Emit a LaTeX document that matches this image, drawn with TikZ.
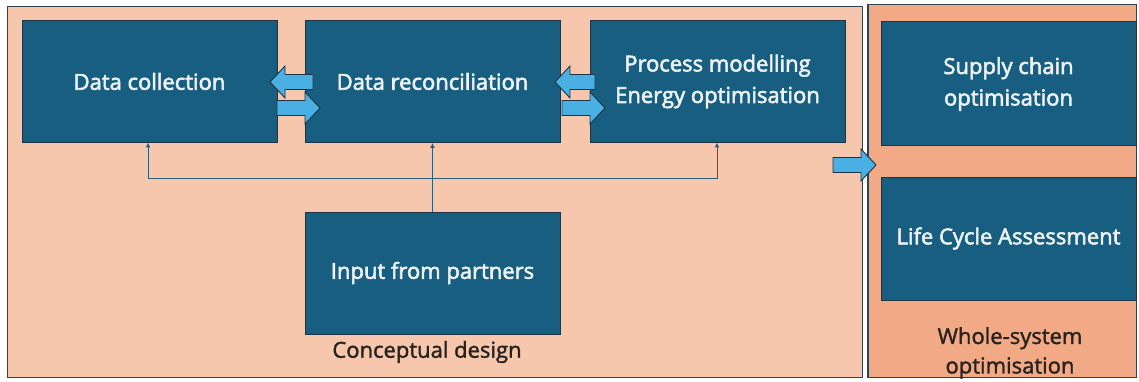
\documentclass[tikz,border=0pt]{standalone}
\usepackage{fontspec}
\setmainfont{Open Sans}
\newfontfamily\stagefont{Open Sans}[FakeBold=2.6]
\newfontfamily\captionfont{Open Sans}[FakeBold=1.6]
\usetikzlibrary{arrows.meta}
\definecolor{panelA}{RGB}{246,199,173}
\definecolor{panelB}{RGB}{241,170,133}
\definecolor{boxfill}{RGB}{24,94,128}
\definecolor{boxline}{RGB}{30,52,66}
\definecolor{boxtext}{RGB}{236,242,246}
\definecolor{arrowfill}{RGB}{74,175,226}
\definecolor{linkcol}{RGB}{44,92,120}
\definecolor{labeltext}{RGB}{40,34,30}
\tikzset{
  panel/.style={draw=boxline!80!gray, line width=1.1pt},
  stage/.style={rectangle, draw=boxline, line width=1pt, fill=boxfill,
    text=boxtext, font=\stagefont\fontsize{22}{31.5}\selectfont, align=center,
    minimum width=255pt, minimum height=122pt, inner sep=0pt},
  caption/.style={text=labeltext, font=\captionfont\fontsize{22}{29.5}\selectfont, align=center, inner sep=0pt},
  barrow/.style={draw=boxline, line width=0.9pt, fill=arrowfill, line join=miter},
  link/.style={draw=linkcol, line width=1pt, -{Latex[length=5pt,width=5pt]}}
}
% block arrow: tail x, tip x, centre y
\newcommand{\blockarrow}[3]{%
  \pgfmathsetmacro{\hb}{#2 > #1 ? #2-15 : #2+15}%
  \draw[barrow] (#1,#3-7.5) -- (\hb,#3-7.5) -- (\hb,#3-16) -- (#2,#3)
    -- (\hb,#3+16) -- (\hb,#3+7.5) -- (#1,#3+7.5) -- cycle;}
\begin{document}
\begin{tikzpicture}[x=1pt,y=-1pt]
\useasboundingbox (0,0) rectangle (1139,382);
\fill[white] (0,0) rectangle (1139,382);
% two panels
\draw[panel, fill=panelA] (7.5,6.5) rectangle (862.5,377.5);
\draw[panel, fill=panelB] (868,4.5) rectangle (1136.5,377.5);
% conceptual design stages
\node[stage] (dc) at (149.5,81.5) {Data collection};
\node[stage] (dr) at (432.5,81.5) {Data reconciliation};
\node[stage] (pm) at (717.5,81.5) {Process modelling\\Energy optimisation};
\node[stage] (ip) at (432.5,273) {Input from partners};
\node[caption] (cd) at (427,352) {Conceptual design};
% whole-system stages
\node[stage, minimum height=124pt] (sc) at (1008.5,84) {Supply chain\\optimisation};
\node[stage, minimum height=123pt] (lca) at (1008.5,238.5) {Life Cycle Assessment};
\node[caption] (ws) at (1010,353) {Whole-system\\optimisation};
% feedback arrows between stages
\blockarrow{313}{270}{82}
\blockarrow{277}{320}{108}
\blockarrow{595}{555}{82}
\blockarrow{562}{605}{108}
\blockarrow{833}{876}{165}
% inputs from partners
\coordinate (hub) at (ip.north |- 0,178);
\draw[link] (ip.north) -- (dr.south);
\draw[link] (hub) -- (148,178) -- (148,142.5);
\draw[link] (hub) -- (717,178) -- (717,142.5);
\end{tikzpicture}
\end{document}
